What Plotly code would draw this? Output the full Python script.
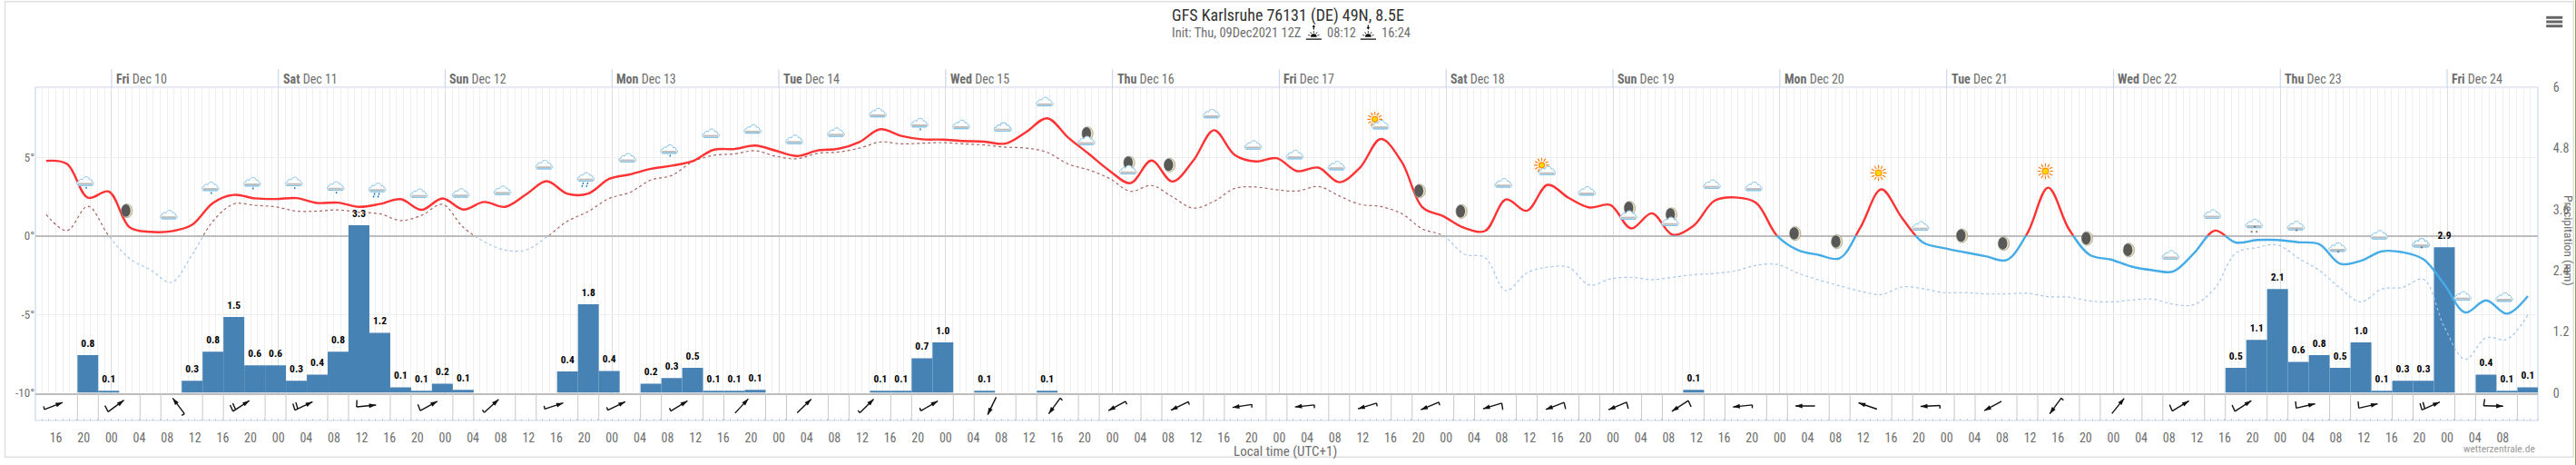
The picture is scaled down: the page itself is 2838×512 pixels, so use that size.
import base64
import math
import plotly.graph_objects as go

# ---------- data ----------
first_hour = -9.4          # hours relative to Fri Dec 10 00:00, local time
step_hours = 3
temperature = [4.77,4.57,2.42,2.81,0.54,0.25,0.29,0.70,2.09,2.60,2.38,2.34,2.40,2.09,2.11,1.84,2.02,2.33,1.65,2.38,
               1.67,2.15,1.84,2.62,3.47,2.67,2.69,3.62,3.91,4.26,4.46,4.75,5.47,5.52,5.74,5.41,5.08,5.43,5.54,5.97,
               6.78,6.36,6.14,6.12,6.03,5.99,5.87,6.61,7.48,6.26,5.21,4.13,3.35,4.79,3.45,4.77,6.72,5.14,4.73,4.94,
               4.11,4.34,3.41,4.34,6.16,4.71,1.80,1.24,0.50,0.31,2.31,1.59,3.24,2.42,1.80,1.96,0.47,1.43,0.06,0.64,
               2.23,2.44,2.09,0.0,-0.91,-1.22,-1.43,0.54,2.95,1.12,-0.43,-0.78,-1.05,-1.30,-1.55,0.16,3.06,0.41,-1.22,-1.51,
               -1.96,-2.19,-2.27,-1.10,0.33,-0.43,-0.27,-0.27,-0.41,-0.54,-1.78,-1.59,-0.99,-1.05,-1.50,-3.10,-4.88,-4.11,-4.96,-3.84]
dew_point = [1.36,0.33,1.88,0.0,-1.45,-2.17,-2.97,-1.20,0.93,2.03,1.94,1.84,1.57,1.57,1.65,1.49,1.40,0.97,1.30,2.00,
             0.54,-0.37,-0.91,-0.91,-0.08,0.93,1.55,2.38,2.77,3.55,3.84,4.71,5.12,5.21,5.41,5.06,4.90,5.25,5.33,5.58,
             5.97,5.85,5.89,5.93,5.85,5.78,5.64,5.58,5.31,4.57,4.19,3.64,2.83,3.20,2.48,1.76,2.19,3.02,3.10,2.93,
             2.85,3.14,2.54,2.00,1.86,1.41,0.43,0.0,-1.16,-1.40,-3.49,-2.36,-2.00,-2.00,-3.14,-2.75,-2.64,-2.79,-2.64,-2.48,
             -2.40,-2.23,-1.88,-1.82,-2.38,-2.81,-3.18,-3.53,-3.74,-3.26,-3.37,-3.62,-3.62,-3.70,-3.70,-3.66,-3.88,-3.90,-4.15,-4.21,
             -4.09,-4.03,-4.36,-4.38,-3.33,-1.10,-0.76,-0.58,-1.43,-2.21,-3.33,-4.21,-3.39,-3.29,-2.77,-5.81,-7.87,-6.49,-6.59,-5.04]

precip_steps = [2,3,7,8,9,10,11,12,13,14,15,16,17,18,19,20,25,26,27,29,30,31,32,33,34,40,41,42,43,45,48,79,
                105,106,107,108,109,110,111,112,113,114,115,117,118,119]
precip_mm = [0.74,0.04,0.24,0.81,1.49,0.54,0.54,0.24,0.36,0.81,3.29,1.18,0.11,0.04,0.18,0.06,0.42,1.74,0.43,0.18,0.29,0.49,0.04,0.04,0.06,
             0.04,0.04,0.68,0.99,0.04,0.04,0.06,0.49,1.04,2.04,0.61,0.74,0.49,0.99,0.04,0.24,0.24,2.86,0.36,0.04,0.11]
precip_labels = ["0.8","0.1","0.3","0.8","1.5","0.6","0.6","0.3","0.4","0.8","3.3","1.2","0.1","0.1","0.2","0.1","0.4","1.8","0.4","0.2","0.3","0.5","0.1","0.1","0.1",
                 "0.1","0.1","0.7","1.0","0.1","0.1","0.1","0.5","1.1","2.1","0.6","0.8","0.5","1.0","0.1","0.3","0.3","2.9","0.4","0.1","0.1"]

# one icon every second step, starting at step 2
icon_names = ["rain1","moon","cloud","rain1","rain1","rain1","rain1","rain2","cloud","cloud","cloud","cloud","rain2","cloud",
              "rain1","cloud","cloud","cloud","cloud","cloud","rain1","cloud","cloud","cloud","mooncloud","mooncloud","moon","cloud","cloud","cloud",
              "cloud","suncloud","moon","moon","cloud","suncloud","cloud","mooncloud","mooncloud","cloud","cloud","moon","moon","sun","cloud",
              "moon","moon","sun","moon","moon","cloud","cloud","snow2","snow1","snow1","cloud","snow1","cloud","cloud"]

wind_bearing = [69,54,323,57,65,85,61,48,72,64,59,43,46,45,60,206,216,242,244,261,264,253,247,253,249,247,237,264,270,289,
                267,242,216,39,59,57,77,77,66,91]
wind_barbs = [1,2,1,3,3,2,2,1,1,1,1,0,0,1,1,0,1,1,1,1,1,1,1,2,2,2,2,1,0,0,1,0,1,0,2,2,2,2,3,2]

day_labels = [("Fri","Dec 10"),("Sat","Dec 11"),("Sun","Dec 12"),("Mon","Dec 13"),("Tue","Dec 14"),("Wed","Dec 15"),("Thu","Dec 16"),
              ("Fri","Dec 17"),("Sat","Dec 18"),("Sun","Dec 19"),("Mon","Dec 20"),("Tue","Dec 21"),("Wed","Dec 22"),("Thu","Dec 23"),("Fri","Dec 24")]
temp_ticks = [5,0,-5,-10]
temp_tick_text = ["5°","0°","-5°","-10°"]
precip_ticks = [0,1.2,2.4,3.6,4.8,6]
precip_tick_text = ["0","1.2","2.4","3.6","4.8","6"]

# ---------- layout constants ----------
W, H = 2838, 512
L, R, T, B = 38.5, 2795.8, 95.7, 462.7
PW, PH = R - L, B - T
X_RANGE = [-10.95, 349.05]
PX_H = PW / (X_RANGE[1] - X_RANGE[0])
Y10 = 432.3
Y0 = 259.3
PX_DEG = (Y10 - Y0) / 10
TOP_DEG = (Y0 - T) / PX_DEG
WIND_PX = B - Y10
d_low = (B - Y10) / PH
d_zero = (B - Y0) / PH
PX_MM = (Y10 - T) / 6

def xp(px): return (px - L) / PW
def yp(py): return (B - py) / PH

FONT = "Liberation Sans Narrow, Roboto Condensed, Roboto, sans-serif"
GRAY = "#6e6e6e"

hours = [first_hour + step_hours * i for i in range(len(temperature))]

fig = go.Figure()

# precipitation bars
bar_x = [hours[i] for i in precip_steps]
fig.add_trace(go.Bar(x=bar_x, y=precip_mm, width=step_hours, marker=dict(color="#4682B4", line=dict(width=0)),
                     xaxis="x2", yaxis="y2", hoverinfo="skip"))
fig.add_trace(go.Scatter(x=bar_x, y=[v + 12 / PX_MM for v in precip_mm], mode="text", text=precip_labels,
                         textposition="middle center", textfont=dict(family=FONT, size=11.5, color="#000000", weight="bold"),
                         xaxis="x2", yaxis="y2", cliponaxis=False, hoverinfo="skip"))

# the same series on the part of the plot above and below zero: each part clips its copy
for axis_x, axis_y, color_t, color_d in (("x3", "y3", "#ff3333", "#a86464"), ("x4", "y4", "#45ace8", "#a4c6ea")):
    fig.add_trace(go.Scatter(x=hours, y=dew_point, mode="lines", xaxis=axis_x, yaxis=axis_y,
                             line=dict(color=color_d, width=1.2, dash="dot", shape="spline", smoothing=1.0), hoverinfo="skip"))
    fig.add_trace(go.Scatter(x=hours, y=temperature, mode="lines", xaxis=axis_x, yaxis=axis_y,
                             line=dict(color=color_t, width=2.4, shape="spline", smoothing=1.0), hoverinfo="skip"))

# wind row: cell separators, barbs and heads
sep_x, sep_y = [], []
n = 0
h = hours[2] - step_hours / 2
while h < X_RANGE[1]:
    if n % 3 != 2:
        sep_x += [h, h, None]
        sep_y += [0, WIND_PX, None]
    h += step_hours
    n += 1
fig.add_trace(go.Scatter(x=sep_x, y=sep_y, mode="lines", line=dict(color="#c8c8c8", width=1), xaxis="x5", yaxis="y5", hoverinfo="skip"))

shaft_x, shaft_y, head_x, head_y = [], [], [], []
LEN, CY = 21.5, 16.0
for i, (b, code) in enumerate(zip(wind_bearing, wind_barbs)):
    cx = -8.35 + 9 * i
    s, c = math.sin(math.radians(b)), math.cos(math.radians(b))
    tipx, tipy = cx + LEN / 2 * s / PX_H, CY + LEN / 2 * c
    tailx, taily = cx - LEN / 2 * s / PX_H, CY - LEN / 2 * c
    shaft_x += [tailx, tipx, None]
    shaft_y += [taily, tipy, None]
    head_x.append(tipx)
    head_y.append(tipy)
    lb = math.radians(b - 82)
    flen = {1: 3.5, 2: 7.5, 3: 7.5}.get(code)
    if flen:
        shaft_x += [tailx, tailx + flen * math.sin(lb) / PX_H, None]
        shaft_y += [taily, taily + flen * math.cos(lb), None]
    if code == 3:
        mx, my = tailx + 3.5 * s / PX_H, taily + 3.5 * c
        shaft_x += [mx, mx + flen * math.sin(lb) / PX_H, None]
        shaft_y += [my, my + flen * math.cos(lb), None]
fig.add_trace(go.Scatter(x=shaft_x, y=shaft_y, mode="lines", line=dict(color="#111111", width=1.4), xaxis="x5", yaxis="y5", hoverinfo="skip"))
fig.add_trace(go.Scatter(x=head_x, y=head_y, mode="markers", xaxis="x5", yaxis="y5", hoverinfo="skip",
                         marker=dict(symbol="arrow", angle=wind_bearing, size=8, color="#111111", line=dict(width=0))))

# ---------- icons ----------
def svg(body):
    s = f'<svg xmlns="http://www.w3.org/2000/svg" viewBox="0 0 24 24" width="96" height="96">{body}</svg>'
    return "data:image/svg+xml;base64," + base64.b64encode(s.encode()).decode()

CLOUD = ('<path d="M5.5 16.5C2.2 16.5 2 12 5.2 12C5 9.8 8 9 9.4 10.2C10.4 6 16 6.2 16.6 10.2C18.6 9.4 20 11 19.5 12.4'
         'C22.4 12.6 22.2 16.5 19 16.5Z" fill="#ffffff" stroke="#84c4e8" stroke-width="1"/>'
         '<rect x="4.2" y="13.8" width="16" height="2.0" fill="#bdbdbd"/>'
         '<path d="M4.2 16.6H20" stroke="#84c4e8" stroke-width="1"/>')
def drop(x, y): return f'<path d="M{x} {y}L{x-0.6} {y+2}" stroke="#1a78c2" stroke-width="1.4"/>'
def star(x, y, r=1.3, col="#777777"):
    out = ""
    for a in (0, 60, 120):
        dx, dy = r * math.cos(math.radians(a)), r * math.sin(math.radians(a))
        out += f'<path d="M{x-dx:.2f} {y-dy:.2f}L{x+dx:.2f} {y+dy:.2f}" stroke="{col}" stroke-width="0.7"/>'
    return out
def moon(cx, cy):
    return (f'<ellipse cx="{cx}" cy="{cy}" rx="6.2" ry="7.6" fill="#e6dfbb" stroke="#8a8a80" stroke-width="0.6"/>'
            f'<ellipse cx="{cx-1}" cy="{cy-0.2}" rx="5" ry="6.8" fill="#585858"/>')
def sun(cx, cy, r=3.4):
    rays = ""
    for i in range(12):
        a = math.radians(30 * i)
        rays += (f'<path d="M{cx+(r+1.6)*math.cos(a):.2f} {cy+(r+1.6)*math.sin(a):.2f}'
                 f'L{cx+(r+5.4)*math.cos(a):.2f} {cy+(r+5.4)*math.sin(a):.2f}" stroke="#ff7a00" stroke-width="1.1"/>')
    return rays + f'<circle cx="{cx}" cy="{cy}" r="{r}" fill="#ffd800" stroke="#ff8c00" stroke-width="1.1"/>'

ICONS = {
    "cloud": svg(CLOUD),
    "rain1": svg(CLOUD + drop(13.5, 18.2)),
    "rain2": svg(CLOUD + drop(9.5, 18) + drop(14.5, 18) + drop(8.5, 21) + drop(13.5, 21)),
    "snow1": svg(CLOUD + star(13, 17)),
    "snow2": svg(CLOUD + star(13, 15.5) + star(9.5, 21) + star(15, 21)),
    "moon": svg(moon(12, 12)),
    "mooncloud": svg(moon(13.5, 7.8) + '<g transform="translate(0 3.5)">' + CLOUD + '</g>'),
    "sun": svg(sun(12, 12)),
    "suncloud": svg(sun(8.5, 8.5, 3.0) + '<g transform="translate(2.5 2.5)">' + CLOUD + '</g>'),
}
def horizon(direction):
    rays = ""
    for a in (200, 235, 270, 305, 340):
        ra = math.radians(a)
        rays += (f'<path d="M{12+5.8*math.cos(ra):.2f} {18.5+5.8*math.sin(ra):.2f}L{12+8.6*math.cos(ra):.2f} {18.5+8.6*math.sin(ra):.2f}"'
                 ' stroke="#111" stroke-width="1.2"/>')
    arrow = ('<path d="M12 7.5V2.8" stroke="#111" stroke-width="1.6"/><path d="M12 0.6L9.6 4H14.4Z" fill="#111"/>' if direction == "up"
             else '<path d="M12 1V5.6" stroke="#111" stroke-width="1.6"/><path d="M12 7.8L9.6 4.4H14.4Z" fill="#111"/>')
    return svg(arrow + rays + '<path d="M7.6 18.5A4.4 4.4 0 0 1 16.4 18.5Z" fill="#111"/>'
               '<path d="M0.5 21.8H23.5" stroke="#111" stroke-width="1.4"/>')

images = []
for i, name in enumerate(icon_names):
    k = 2 + 2 * i
    images.append(dict(source=ICONS[name], xref="x", yref="y", x=hours[k] - 0.4, y=temperature[k] + 1.05,
                       sizex=24 / PX_H, sizey=24 / PX_DEG, xanchor="center", yanchor="middle", layer="above", sizing="contain"))
images.append(dict(source=horizon("up"), xref="paper", yref="paper", x=xp(1447), y=yp(35.5), sizex=18 / PW, sizey=18 / PH,
                   xanchor="center", yanchor="middle", layer="above", sizing="contain"))
images.append(dict(source=horizon("down"), xref="paper", yref="paper", x=xp(1507), y=yp(35.5), sizex=18 / PW, sizey=18 / PH,
                   xanchor="center", yanchor="middle", layer="above", sizing="contain"))

# ---------- text ----------
def text(px, py, s, size, color=GRAY, anchor="center", angle=0):
    return dict(xref="paper", yref="paper", x=xp(px), y=yp(py), text=s, showarrow=False, xanchor=anchor, yanchor="middle",
                font=dict(family=FONT, size=size, color=color), textangle=angle)

annotations = [
    text(1419, 17, "GFS Karlsruhe 76131 (DE) 49N, 8.5E", 18, "#333333"),
    text(1435, 36.5, "Init: Thu, 09Dec2021 12Z", 14.5, GRAY, "right"),
    text(1460, 36.5, "08:12", 14.5, GRAY, "left"),
    text(1520, 36.5, "16:24", 14.5, GRAY, "left"),
    text(1416, 496.7, "Local time (UTC+1)", 15, GRAY),
    text(2795, 494, "wetterzentrale.de", 11.5, "#999999", "right"),
    text(2830, 265, "Precipitation (mm)", 13.5, GRAY, "center", 90),
]
day_hours = [24 * i for i in range(len(day_labels))]
for dh, (wd, date) in zip(day_hours, day_labels):
    annotations.append(dict(xref="x", yref="paper", x=dh, y=yp(87), text=f"<b>{wd}</b> {date}", showarrow=False, xanchor="left",
                            yanchor="middle", xshift=3, font=dict(family=FONT, size=14, color=GRAY)))

shapes = [
    dict(type="rect", xref="paper", yref="paper", x0=xp(5), x1=xp(2835), y0=yp(1.5), y1=yp(503), line=dict(color="#e0e0e0", width=1.5), layer="below"),
    dict(type="rect", xref="paper", yref="paper", x0=0, x1=1, y0=0, y1=1, line=dict(color="#ccd6eb", width=1.2), layer="below"),
    dict(type="line", xref="paper", yref="paper", x0=xp(2837.5), x1=xp(2837.5), y0=yp(0), y1=yp(512), line=dict(color="#6f8f3c", width=1)),
]
for dh in day_hours:
    shapes.append(dict(type="line", xref="x", yref="paper", x0=dh, x1=dh, y0=1, y1=yp(76), line=dict(color="#ccd6eb", width=1.2), layer="below"))
for py in (19, 23.7, 28.4):
    shapes.append(dict(type="line", xref="paper", yref="paper", x0=xp(2805), x1=xp(2823), y0=yp(py), y1=yp(py), line=dict(color="#666666", width=3)))

tick_hours = list(range(-8, 345, 4))
tick_text = [f"{t % 24:02d}" for t in tick_hours]

fig.update_layout(
    width=W, height=H, autosize=False, showlegend=False, barmode="overlay",
    paper_bgcolor="#ffffff", plot_bgcolor="rgba(0,0,0,0)",
    margin=dict(l=L, r=W - R, t=T, b=H - B, pad=0, autoexpand=False),
    font=dict(family=FONT, color=GRAY),
    images=images, annotations=annotations, shapes=shapes,
    xaxis=dict(domain=[0, 1], range=X_RANGE, anchor="y", tickmode="array", tickvals=day_hours, showticklabels=False, ticks="",
               showgrid=True, gridcolor="#dcdcdc", gridwidth=1.1, showline=True, linecolor="#bdbdbd", linewidth=1.6, zeroline=False,
               minor=dict(tickmode="linear", tick0=0, dtick=1, showgrid=True, gridcolor="#efefef", gridwidth=1, ticks="")),
    yaxis=dict(domain=[d_low, 1], range=[-10, TOP_DEG], anchor="x", tickmode="array", tickvals=temp_ticks, ticktext=temp_tick_text,
               tickfont=dict(size=13, color=GRAY), showgrid=True, gridcolor="#eeeeee", gridwidth=1.4, zeroline=True,
               zerolinecolor="#bdbdbd", zerolinewidth=1.6, showline=False, ticks=""),
    xaxis2=dict(domain=[0, 1], range=X_RANGE, anchor="y2", visible=False),
    yaxis2=dict(domain=[d_low, 1], range=[0, 6], anchor="x2", side="right", tickmode="array", tickvals=precip_ticks,
                ticktext=precip_tick_text, tickfont=dict(size=14, color=GRAY), showgrid=False, zeroline=False,
                ticks="outside", ticklen=13, tickcolor="rgba(0,0,0,0)", showline=False),
    xaxis3=dict(domain=[0, 1], range=X_RANGE, anchor="y3", visible=False),
    yaxis3=dict(domain=[d_zero, 1], range=[0, TOP_DEG], anchor="x3", visible=False),
    xaxis4=dict(domain=[0, 1], range=X_RANGE, anchor="y4", visible=False),
    yaxis4=dict(domain=[d_low, d_zero], range=[-10, 0], anchor="x4", visible=False),
    xaxis5=dict(domain=[0, 1], range=X_RANGE, anchor="y5", tickmode="array", tickvals=tick_hours, ticktext=tick_text, showgrid=False,
                zeroline=False, showline=False, tickfont=dict(size=14, color=GRAY), ticks="outside", ticklen=6, tickcolor="rgba(0,0,0,0)",
                minor=dict(tickmode="linear", tick0=0, dtick=1, ticks="inside", ticklen=2.5, tickcolor="#c8c8c8", tickwidth=1, showgrid=False)),
    yaxis5=dict(domain=[0, d_low], range=[0, WIND_PX], anchor="x5", visible=False),
)

fig.write_html("out.html", config=dict(displayModeBar=False),
               post_script="document.body.style.margin='0';document.body.style.overflow='hidden';")
